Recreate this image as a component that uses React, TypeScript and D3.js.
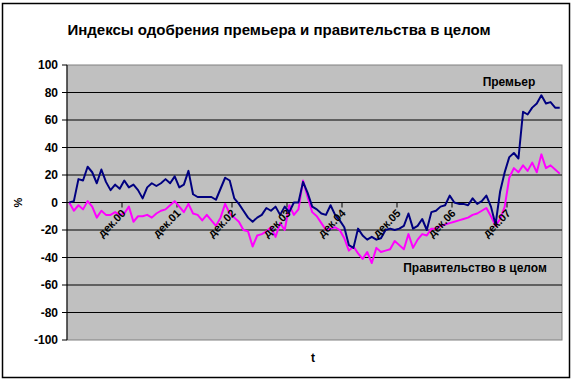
import React from "react";
import * as d3 from "d3";

const title = "Индексы одобрения премьера и правительства в целом";
const yTicks = [100, 80, 60, 40, 20, 0, -20, -40, -60, -80, -100];
const tickLabels = ["дек.00", "дек.01", "дек.02", "дек.03", "дек.04", "дек.05", "дек.06", "дек.07"];
const tickIndex = [11, 23, 35, 47, 59, 71, 83, 95];

// monthly index, Jan 2000 .. Dec 2008
const premier = [
  0, 1, 17, 16, 26, 22, 14, 24, 15, 9, 13, 10,
  16, 11, 13, 9, 3, 11, 14, 12, 14, 17, 14, 19,
  11, 13, 23, 6, 4, 4, 4, 4, 2, 10, 18, 16,
  3, -1, -6, -11, -14, -11, -9, -4, -6, -3, -9, -3,
  -7, 0, 0, 15, 7, -3, -5, -8, -9, -2, -9, -13,
  -18, -31, -33, -19, -24, -27, -25, -27, -26, -20, -19, -20,
  -19, -17, -8, -19, -17, -12, -20, -7, -6, -3, -2, 5,
  0, -1, -1, -2, 3, -1, 1, 5, -3, -16, 8, 22,
  33, 36, 32, 66, 64, 69, 72, 78, 72, 73, 69, 69,
];
const government = [
  0, -6, -2, -5, 1, -3, -11, -6, -9, -9, -7, -9,
  -8, -3, -14, -10, -10, -9, -11, -8, -6, -5, -2, 1,
  -3, -7, -1, -8, -9, -13, -9, -13, -17, -11, -1, -8,
  -11, -14, -20, -21, -32, -24, -23, -21, -18, -25, -15, -20,
  -2, -9, -5, 16, 4, -7, -10, -15, -20, -19, -18, -20,
  -26, -35, -32, -37, -41, -36, -44, -33, -36, -35, -34, -28,
  -31, -34, -23, -33, -27, -23, -24, -19, -19, -17, -16, -15,
  -14, -13, -12, -11, -9, -8, -6, -4, -10, -17, -12, -3,
  18, 25, 22, 27, 23, 29, 22, 35, 25, 27, 24, 21,
];

const W = 575;
const H = 384;
const plot = { left: 67, right: 562, top: 65, bottom: 340 };
const FONT = "'Liberation Sans', Arial, sans-serif";

export default function App() {
  const n = premier.length;
  const x = d3
    .scaleBand<number>()
    .domain(d3.range(n))
    .range([plot.left, plot.right]);
  const y = d3.scaleLinear().domain([-100, 100]).range([plot.bottom, plot.top]);
  const cx = (i: number) => (x(i) as number) + x.bandwidth() / 2;
  const line = d3
    .line<number>()
    .x((_, i) => cx(i))
    .y((d) => y(d));
  const y0 = y(0);

  return (
    <svg
      width={W}
      height={H}
      style={{ position: "absolute", left: 0, top: 0, background: "#fff" }}
      fontFamily={FONT}
    >
      <rect x={0} y={0} width={W} height={H} fill="#fff" />
      <rect x={2.5} y={3.5} width={567} height={374} fill="none" stroke="#000" strokeWidth={1.5} />
      <text x={279} y={35} textAnchor="middle" fontSize={15} fontWeight="bold">
        {title}
      </text>
      <rect
        x={plot.left}
        y={plot.top}
        width={plot.right - plot.left}
        height={plot.bottom - plot.top}
        fill="#C0C0C0"
        stroke="#808080"
        strokeWidth={1}
      />
      {yTicks.map((t) => (
        <g key={t}>
          {t !== 100 && t !== -100 && (
            <line x1={plot.left} x2={plot.right} y1={y(t)} y2={y(t)} stroke="#000" strokeWidth={1} />
          )}
          <line x1={plot.left - 5} x2={plot.left} y1={y(t)} y2={y(t)} stroke="#000" strokeWidth={1} />
          <text
            x={plot.left - 9}
            y={y(t)}
            dy="0.36em"
            textAnchor="end"
            fontSize={12}
            fontWeight="bold"
          >
            {t}
          </text>
        </g>
      ))}
      <line x1={plot.left} x2={plot.left} y1={plot.top} y2={plot.bottom} stroke="#000" strokeWidth={1} />
      <line x1={plot.left} x2={plot.right} y1={y0} y2={y0} stroke="#000" strokeWidth={1} />
      {tickIndex.map((ti, k) => {
        const tx = (x(ti) as number) + x.bandwidth();
        return <line key={k} x1={tx} x2={tx} y1={y0} y2={y0 + 5} stroke="#000" strokeWidth={1} />;
      })}
      <path d={line(government) ?? ""} fill="none" stroke="#FF00FF" strokeWidth={2} strokeLinejoin="round" />
      <path d={line(premier) ?? ""} fill="none" stroke="#000080" strokeWidth={2} strokeLinejoin="round" />
      {tickIndex.map((ti, k) => {
        const tx = (x(ti) as number) + x.bandwidth();
        return (
          <text
            key={k}
            transform={`translate(${tx - 1},${y0 + 6}) rotate(-45)`}
            textAnchor="end"
            dy="0.7em"
            fontSize={11}
            fontWeight="bold"
          >
            {tickLabels[k]}
          </text>
        );
      })}
      <text x={509} y={86} textAnchor="middle" fontSize={12} fontWeight="bold">
        Премьер
      </text>
      <text x={475} y={272} textAnchor="middle" fontSize={12} fontWeight="bold">
        Правительство в целом
      </text>
      <text x={313} y={362} textAnchor="middle" fontSize={12} fontWeight="bold">
        t
      </text>
      <text
        transform={`translate(22,${y0}) rotate(-90)`}
        textAnchor="middle"
        fontSize={11}
        fontWeight="bold"
      >
        %
      </text>
    </svg>
  );
}
